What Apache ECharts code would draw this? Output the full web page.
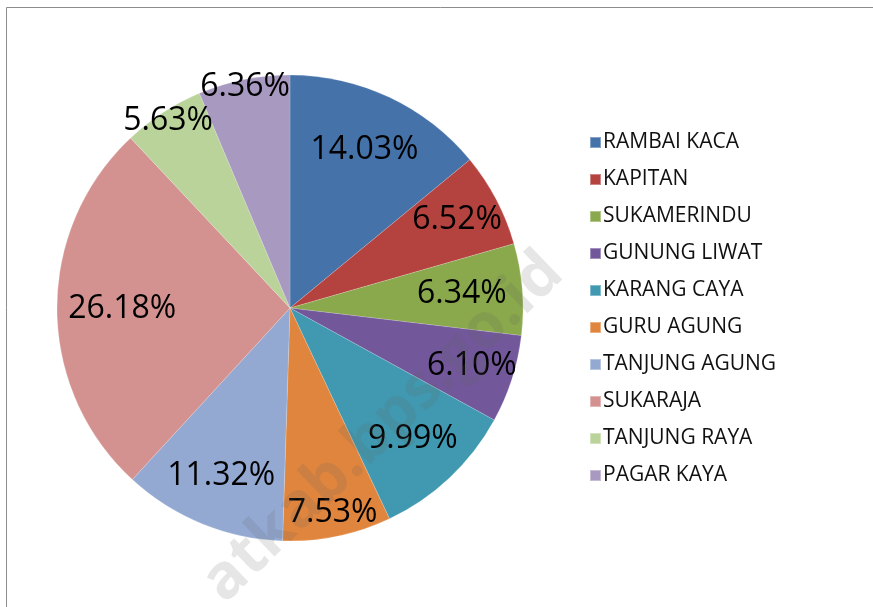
<!DOCTYPE html>
<html>
<head>
<meta charset="utf-8">
<script src="https://cdn.jsdelivr.net/npm/echarts@6/dist/echarts.min.js"></script>
<style>
  html, body { margin: 0; padding: 0; background: #fff; }
  #chart { width: 873px; height: 607px; }
</style>
</head>
<body>
<div id="chart"></div>
<script>
const villages = ['RAMBAI KACA', 'KAPITAN', 'SUKAMERINDU', 'GUNUNG LIWAT', 'KARANG CAYA',
  'GURU AGUNG', 'TANJUNG AGUNG', 'SUKARAJA', 'TANJUNG RAYA', 'PAGAR KAYA']
const shares = [14.03, 6.52, 6.34, 6.10, 9.99, 7.53, 11.32, 26.18, 5.63, 6.36]

const colors = ['#4572a9', '#b4433f', '#8aa84c', '#72579a', '#4199b1',
  '#e0853d', '#93a9d2', '#d39190', '#b9d39a', '#a899c0']
// how far out each label sits (fraction of radius), like excel best fit
const labelDist = [0.75, 0.81, 0.74, 0.82, 0.77, 0.90, 0.78, 0.72, 0.96, 0.97]

const cx = 290, cy = 308, R = 233
const total = shares.reduce((a, b) => a + b, 0)
let cum = 0
const midAngles = shares.map(v => {
  const m = (cum + v / 2) / total * Math.PI * 2
  cum += v
  return m
})

const chart = echarts.init(document.getElementById('chart'))
chart.setOption({
  animation: false,
  color: colors,
  legend: {
    orient: 'vertical',
    left: 584,
    top: 127,
    icon: 'rect',
    itemWidth: 11,
    itemHeight: 11,
    itemGap: 16,
    textStyle: {
      fontFamily: 'Open Sans',
      fontSize: 21,
      lineHeight: 21,
      color: '#111',
      padding: [0, 0, 0, -3]
    },
    data: villages
  },
  graphic: [
    {
      type: 'rect',
      silent: true,
      shape: { x: 6.5, y: 7.5, width: 900, height: 700 },
      style: { fill: 'none', stroke: '#8c8c8c', lineWidth: 1 }
    },
    {
      type: 'text',
      silent: true,
      z: 100,
      x: 234,
      y: 614,
      rotation: Math.PI / 4.1,
      style: {
        text: 'atkab.bps.go.id',
        font: 'bold 62px "Open Sans"',
        fill: 'rgba(100,100,100,0.16)',
        textVerticalAlign: 'bottom'
      }
    }
  ],
  series: [
    {
      type: 'pie',
      center: [cx, cy],
      radius: R,
      startAngle: 90,
      clockwise: true,
      avoidLabelOverlap: false,
      itemStyle: { borderColor: 'rgba(255,255,255,0.35)', borderWidth: 0.5 },
      label: {
        show: true,
        position: 'inside',
        formatter: p => shares[p.dataIndex].toFixed(2) + '%',
        fontFamily: 'Open Sans',
        fontSize: 32,
        color: '#000'
      },
      labelLine: { show: false },
      labelLayout: p => {
        const a = midAngles[p.dataIndex]
        const d = labelDist[p.dataIndex] * R
        return {
          x: cx + d * Math.sin(a),
          y: cy - d * Math.cos(a),
          align: 'center',
          verticalAlign: 'middle'
        }
      },
      emphasis: { disabled: true },
      data: villages.map((name, i) => ({ name, value: shares[i] }))
    }
  ]
})
</script>
</body>
</html>
